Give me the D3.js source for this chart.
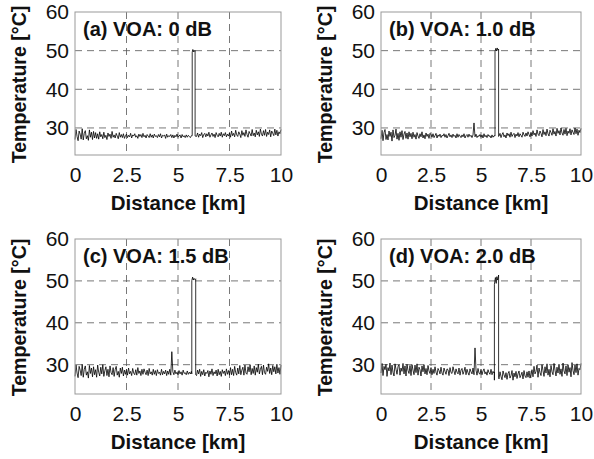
<!DOCTYPE html>
<html lang="en">
<head>
    <meta charset="UTF-8">
    <title>VOA temperature traces</title>
    <script src="https://cdn.jsdelivr.net/npm/d3@7"></script>
    <style>
        body { margin: 0; background: #fff; }
        text { font-family: "Liberation Sans", Arial, sans-serif; }
    </style>
</head>
<body>
<div id="d3"></div>
<script>
    // ticks
    var xTicks = [0, 2.5, 5, 7.5, 10];
    var xTickLabels = ["0", "2.5", "5", "7.5", "10"];
    var yTicks = [30, 40, 50, 60];

    var panelLabels = ["(a) VOA: 0 dB", "(b) VOA: 1.0 dB", "(c) VOA: 1.5 dB", "(d) VOA: 2.0 dB"];

    // sampling of the traces (km)
    var step = 0.05;
    var leftStart = 0;     // trace before the heated section
    var rightStart = 5.9;  // trace after the heated section

    // (a) 0 dB
    var tempA_left = [
        27.0, 29.6, 27.8, 26.7, 29.2, 28.4, 27.1, 29.8, 26.9, 28.6,
        29.3, 27.2, 28.0, 26.8, 29.5, 27.6, 28.9, 27.0, 29.1, 27.4,
        28.8, 27.3, 28.5, 27.1, 29.0, 27.7, 28.3, 27.2, 28.9, 27.5,
        28.1, 27.0, 28.7, 27.8, 28.4, 27.3, 29.1, 27.6, 28.2, 27.4,
        28.6, 27.9, 27.2, 28.8, 27.6, 28.3, 27.5, 28.5, 27.3, 28.0,
        28.4, 27.5, 28.1, 27.7, 28.6, 27.4, 28.2, 27.9, 28.5, 27.6,
        28.0, 27.3, 28.4, 27.8, 28.3, 27.5, 28.6, 27.7, 28.1, 27.4,
        28.3, 27.9, 27.5, 28.5, 27.6, 28.2, 27.4, 28.4, 27.8, 28.0,
        27.5, 28.3, 27.7, 28.5, 27.4, 28.1, 27.9, 28.2, 27.3, 28.4,
        27.6, 28.0, 27.8, 28.3, 27.5, 28.2, 27.4, 28.1, 27.7, 28.4,
        27.6, 27.9, 28.2, 27.4, 28.3, 27.7, 28.0, 27.5, 28.2, 27.6,
        28.1, 27.8, 27.5, 28.0
    ];
    var spikeA_x = [5.69, 5.69, 5.72, 5.75, 5.78, 5.81, 5.83, 5.83];
    var spikeA_t = [28.0, 49.6, 50.3, 49.7, 50.1, 49.8, 50.0, 27.9];
    var tempA_right = [
        27.8, 28.7, 27.6, 28.4, 28.0, 28.8, 27.5, 28.3, 28.6, 27.7,
        28.5, 27.9, 28.9, 27.6, 28.2, 28.7, 27.8, 28.4, 27.5, 28.8,
        28.1, 27.7, 28.6, 27.9, 28.9, 27.6, 28.5, 28.0, 28.8, 27.7,
        28.4, 27.9, 28.7,
        27.6, 29.2, 28.0, 28.6, 27.7, 29.4, 28.2, 27.8, 29.0, 28.4,
        27.5, 29.3, 28.1, 28.8, 27.8, 29.5, 28.3, 27.6, 29.1, 28.5,
        27.9, 29.6, 28.0, 28.7, 27.7, 29.4, 28.2, 29.0, 27.8, 29.7,
        28.4, 27.9, 29.3, 28.1, 29.6, 27.8, 28.9, 28.3, 29.5, 27.7,
        29.2, 28.6, 28.0, 29.7, 28.2, 29.4, 27.9, 29.0, 28.5, 29.6
    ];

    // (b) 1.0 dB
    var tempB_left = [
        27.2, 29.4, 26.7, 28.8, 29.6, 27.0, 28.3, 26.9, 29.2, 27.8,
        28.9, 26.6, 29.5, 27.5, 28.1, 29.7, 27.1, 28.6, 26.8, 29.0,
        27.6, 29.3, 27.0, 28.4, 29.1, 27.3, 28.7, 27.1, 29.0, 27.7,
        28.6, 27.2, 28.9, 27.6, 28.3, 27.1, 28.8, 27.9, 27.3, 28.5,
        27.7, 29.0, 27.4, 28.2, 27.2, 28.7, 27.8, 28.4, 27.3, 28.6,
        28.3, 27.6, 28.5, 27.5, 28.0, 28.6, 27.4, 28.2, 27.8, 28.4,
        27.5, 28.1, 27.9, 28.5, 27.6, 28.3, 27.4, 28.0, 28.6, 27.7,
        28.2, 27.5, 28.4, 27.8, 28.1, 27.4, 28.5, 27.6, 28.3, 27.9,
        27.5, 28.2, 27.7, 28.5, 27.4, 28.0, 28.3, 27.6, 28.4, 27.8,
        28.1, 27.5, 28.2, 31.3, 27.7, 28.4, 27.5, 28.0, 27.8, 28.3,
        27.6, 28.2, 27.4, 28.5, 27.7, 28.1, 27.5, 28.3, 27.8, 28.0,
        27.4, 28.2, 27.6, 28.0
    ];
    var spikeB_x = [5.70, 5.70, 5.74, 5.78, 5.81, 5.85, 5.88, 5.88];
    var spikeB_t = [27.9, 49.8, 50.6, 49.9, 50.7, 50.1, 50.4, 27.8];
    var tempB_right = [
        27.9, 28.6, 27.5, 28.3, 28.8, 27.7, 28.2, 27.4, 28.7, 28.0,
        28.5, 27.6, 28.9, 27.8, 28.3, 28.6, 27.5, 28.4, 27.9, 28.8,
        27.7, 28.5, 28.1, 27.6, 28.9, 28.2, 27.8, 28.7, 27.9, 29.0,
        28.3, 27.7, 28.8,
        27.9, 29.3, 28.2, 28.7, 27.8, 29.5, 28.4, 28.0, 29.2, 28.6,
        27.7, 29.6, 28.3, 29.0, 28.0, 29.7, 28.5, 27.9, 29.4, 28.8,
        28.1, 29.8, 28.4, 29.1, 27.9, 29.9, 28.6, 29.3, 28.2, 30.0,
        28.7, 28.1, 29.6, 28.4, 29.9, 28.0, 29.2, 28.6, 29.8, 28.2,
        29.5, 28.9, 28.3, 30.0, 28.5, 29.7, 28.1, 29.4, 28.8, 29.9
    ];

    // (c) 1.5 dB
    var tempC_left = [
        27.2, 29.9, 28.0, 26.9, 29.6, 28.7, 27.4, 30.1, 27.0, 28.9,
        29.7, 27.5, 28.3, 26.8, 29.8, 27.9, 29.2, 27.1, 29.5, 27.6,
        28.8, 27.0, 29.9, 28.2, 27.3, 29.4, 27.8, 30.0, 27.2, 28.6,
        29.5, 27.4, 28.9, 27.1, 29.7, 28.1, 27.6, 29.3, 27.2, 28.8,
        29.6, 27.5, 28.4, 27.0, 29.2, 27.9, 29.4, 27.3, 28.7, 27.7,
        28.9, 27.5, 29.2, 27.8, 28.4, 27.4, 29.1, 28.0, 27.6, 28.8,
        27.5, 29.3, 27.9, 28.5, 27.4, 28.9, 27.7, 29.0, 28.2, 27.6,
        28.7, 27.4, 29.1, 27.8, 28.3, 27.5, 28.9, 27.7, 28.6, 27.4,
        28.8, 27.9, 28.2, 27.5, 28.9, 27.6, 28.4, 27.8, 28.7, 27.4,
        28.5, 27.7, 28.9, 27.5, 33.1, 28.3, 27.6, 28.7, 27.8, 28.2,
        27.6, 28.6, 27.8, 28.3, 27.5, 28.7, 27.9, 28.1, 27.6, 28.5,
        27.7, 28.2, 27.8, 28.4
    ];
    var spikeC_x = [5.67, 5.67, 5.71, 5.74, 5.78, 5.82, 5.86, 5.86];
    var spikeC_t = [27.8, 50.1, 50.9, 50.2, 50.6, 50.3, 50.5, 27.6];
    var tempC_right = [
        27.4, 28.7, 27.8, 28.9, 27.2, 28.4, 27.6, 28.8, 27.3, 28.2,
        27.9, 28.6, 27.1, 28.5, 27.7, 29.0, 27.4, 28.3, 27.8, 28.7,
        27.3, 28.9, 27.6, 28.4, 27.2, 28.8, 27.9, 28.5, 27.4, 29.0,
        27.7, 28.6, 27.5,
        29.3, 27.6, 28.9, 27.4, 29.6, 28.1, 27.5, 29.2, 27.8, 29.8,
        27.6, 28.7, 29.4, 27.5, 29.9, 28.0, 27.7, 29.5, 28.3, 30.0,
        27.6, 29.1, 27.9, 29.7, 27.5, 29.3, 28.2, 30.1, 27.8, 28.9,
        29.6, 27.6, 29.9, 28.1, 27.7, 29.4, 28.4, 30.2, 27.9, 29.2,
        27.6, 29.8, 28.3, 29.5, 27.8, 30.1, 28.0, 29.3, 27.7, 29.9
    ];

    // (d) 2.0 dB
    var tempD_left = [
        28.0, 30.3, 27.4, 29.6, 28.8, 30.1, 27.2, 29.3, 28.5, 30.4,
        27.6, 29.9, 28.2, 27.3, 30.2, 28.9, 27.7, 29.5, 30.0, 27.5,
        29.2, 28.4, 30.3, 27.8, 29.7, 27.3, 30.1, 28.6, 27.9, 29.8,
        27.4, 30.0, 28.7, 27.6, 29.9, 28.1, 30.2, 27.5, 29.4, 28.8,
        27.3, 29.7, 28.3, 30.0, 27.8, 29.1, 27.6, 29.8, 28.5, 27.9,
        29.3, 27.6, 28.9, 27.9, 29.5, 28.2, 27.5, 29.1, 28.6, 27.8,
        29.4, 28.0, 27.5, 29.2, 28.4, 27.7, 29.0, 28.8, 27.4, 29.3,
        28.1, 27.9, 29.5, 28.5, 27.6, 29.0, 28.2, 27.8, 29.2, 27.5,
        28.7, 29.1, 27.7, 28.4, 29.4, 27.6, 28.9, 28.1, 27.5, 29.0,
        28.3, 27.8, 29.2, 27.6, 34.0, 28.7, 27.5, 29.1, 28.0, 27.7,
        28.9, 27.6, 28.5, 29.0, 27.8, 28.3, 27.5, 28.8, 28.1, 27.7,
        28.9, 27.6, 28.4, 28.0
    ];
    var spikeD_x = [5.67, 5.67, 5.67, 5.72, 5.76, 5.79, 5.83, 5.88, 5.88];
    var spikeD_t = [28.2, 26.3, 49.2, 50.8, 49.4, 51.0, 50.2, 51.4, 26.9];
    var tempD_right = [
        26.6, 28.3, 27.2, 26.4, 28.5, 27.6, 26.9, 28.1, 26.5, 27.9,
        28.4, 26.8, 27.4, 28.6, 26.3, 28.0, 27.1, 28.4, 26.7, 27.8,
        28.5, 26.9, 27.5, 28.2, 26.6, 28.6, 27.3, 26.9, 28.3, 27.0,
        28.5, 26.8, 27.7,
        28.8, 27.1, 29.6, 27.8, 28.4, 29.9, 27.0, 29.2, 28.1, 27.4,
        30.0, 28.6, 27.2, 29.5, 28.0, 30.2, 27.5, 28.9, 27.1, 29.8,
        28.3, 27.6, 30.3, 28.7, 27.3, 29.4, 28.0, 30.1, 27.7, 29.0,
        27.2, 30.4, 28.5, 27.8, 29.7, 27.4, 30.0, 28.2, 29.3, 27.1,
        30.5, 28.6, 27.6, 29.9, 28.1, 30.2, 27.5, 29.1, 28.8, 30.3
    ];

    var panels = [
        {label: panelLabels[0], left: tempA_left, sx: spikeA_x, st: spikeA_t, right: tempA_right, x0: 75, x1: 281, y0: 12, y1: 155},
        {label: panelLabels[1], left: tempB_left, sx: spikeB_x, st: spikeB_t, right: tempB_right, x0: 381, x1: 581, y0: 12, y1: 155},
        {label: panelLabels[2], left: tempC_left, sx: spikeC_x, st: spikeC_t, right: tempC_right, x0: 75, x1: 281, y0: 239, y1: 394},
        {label: panelLabels[3], left: tempD_left, sx: spikeD_x, st: spikeD_t, right: tempD_right, x0: 381, x1: 581, y0: 239, y1: 394}
    ];

    var svg = d3.select("#d3")
            .append("svg")
            .attr("width", 594)
            .attr("height", 459);

    panels.forEach(function (p) {
        // join the three pieces of the trace
        var pts = [];
        p.left.forEach(function (t, i) { pts.push([leftStart + i * step, t]); });
        p.sx.forEach(function (x, i) { pts.push([x, p.st[i]]); });
        p.right.forEach(function (t, i) { pts.push([rightStart + i * step, t]); });

        var x = d3.scaleLinear().domain([0, 10]).range([p.x0, p.x1]);
        var y = d3.scaleLinear().domain([23, 60]).range([p.y1, p.y0]);

        var g = svg.append("g");

        // grid
        g.selectAll(".vgrid")
                .data(xTicks.slice(1, -1))
                .enter()
                .append("line")
                .attr("x1", function (d) { return x(d); })
                .attr("x2", function (d) { return x(d); })
                .attr("y1", p.y0)
                .attr("y2", p.y1)
                .attr("stroke", "#555")
                .attr("stroke-width", 0.8)
                .attr("stroke-dasharray", "7,5");

        g.selectAll(".hgrid")
                .data(yTicks.slice(0, -1))
                .enter()
                .append("line")
                .attr("x1", p.x0)
                .attr("x2", p.x1)
                .attr("y1", function (d) { return y(d); })
                .attr("y2", function (d) { return y(d); })
                .attr("stroke", "#555")
                .attr("stroke-width", 0.8)
                .attr("stroke-dasharray", "7,5");

        // trace
        var line = d3.line()
                .x(function (d) { return x(d[0]); })
                .y(function (d) { return y(d[1]); });

        g.append("path")
                .datum(pts)
                .attr("d", line)
                .attr("fill", "none")
                .attr("stroke", "#000")
                .attr("stroke-width", 0.8);

        // frame
        g.append("rect")
                .attr("x", p.x0)
                .attr("y", p.y0)
                .attr("width", p.x1 - p.x0)
                .attr("height", p.y1 - p.y0)
                .attr("fill", "none")
                .attr("stroke", "#999")
                .attr("stroke-width", 1);

        // axes (labels only)
        var xAxis = d3.axisBottom(x)
                .tickValues(xTicks)
                .tickFormat(function (d, i) { return xTickLabels[i]; })
                .tickSize(0)
                .tickPadding(12);
        var gx = g.append("g")
                .attr("transform", "translate(0," + p.y1 + ")")
                .call(xAxis);
        gx.select(".domain").remove();
        gx.selectAll("text")
                .attr("font-family", "Liberation Sans, Arial, sans-serif")
                .attr("font-size", 21)
                .attr("fill", "#111");

        var yAxis = d3.axisLeft(y)
                .tickValues(yTicks)
                .tickSize(0)
                .tickPadding(6);
        var gy = g.append("g")
                .attr("transform", "translate(" + p.x0 + ",0)")
                .call(yAxis);
        gy.select(".domain").remove();
        gy.selectAll("text")
                .attr("font-family", "Liberation Sans, Arial, sans-serif")
                .attr("font-size", 21)
                .attr("fill", "#111");

        // titles
        g.append("text")
                .attr("x", (p.x0 + p.x1) / 2)
                .attr("y", p.y1 + 55)
                .attr("text-anchor", "middle")
                .attr("font-size", 20.5)
                .attr("font-weight", "bold")
                .attr("fill", "#111")
                .text("Distance [km]");

        g.append("text")
                .attr("transform", "translate(" + (p.x0 - 49) + "," + ((p.y0 + p.y1) / 2 + 1) + ") rotate(-90)")
                .attr("text-anchor", "middle")
                .attr("font-size", 19.6)
                .attr("font-weight", "bold")
                .attr("fill", "#111")
                .text("Temperature [°C]");

        g.append("text")
                .attr("x", p.x0 + 8)
                .attr("y", p.y0 + 24)
                .attr("font-size", 20)
                .attr("font-weight", "bold")
                .attr("fill", "#111")
                .text(p.label);
    });
</script>
</body>
</html>
